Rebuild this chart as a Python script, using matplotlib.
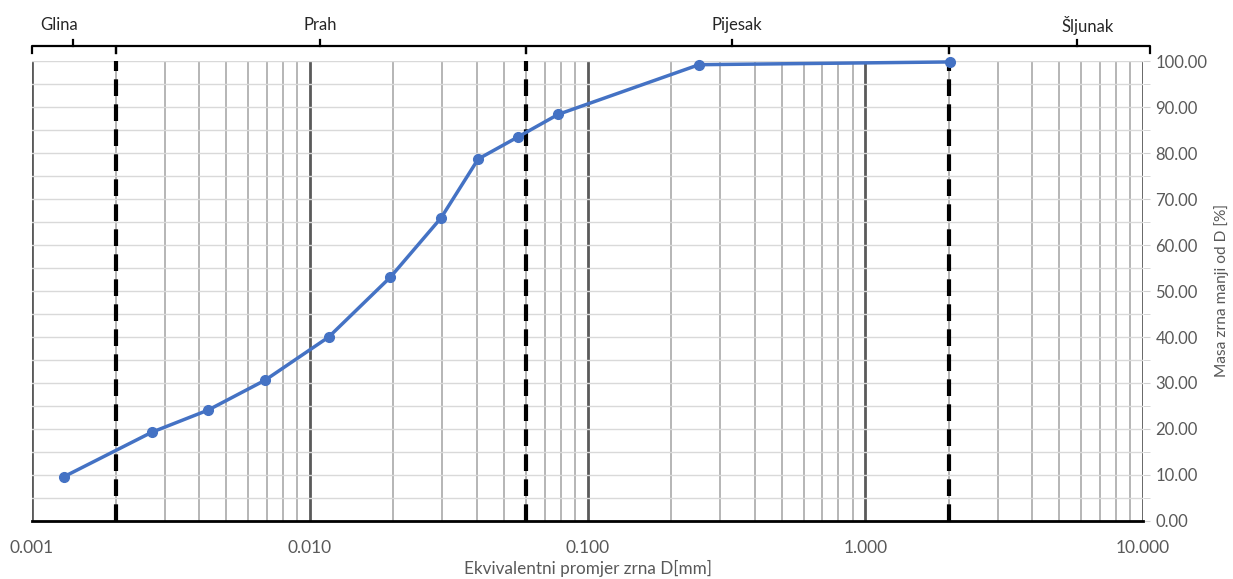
import numpy as np
import matplotlib
matplotlib.use('Agg')
import matplotlib.pyplot as plt
import matplotlib.ticker as mticker
from matplotlib.transforms import blended_transform_factory

plt.rcParams['font.family'] = ['Lato', 'DejaVu Sans']

# --- podaci ---
promjer = [0.0013, 0.0027, 0.0043, 0.0069, 0.0117, 0.0195, 0.0297, 0.0404, 0.0562, 0.0784, 0.252, 2.02]
prolaz = [9.6, 19.3, 24.1, 30.6, 40.0, 53.0, 65.9, 78.7, 83.5, 88.4, 99.2, 99.8]

granice = [0.002, 0.06, 2.0]
frakcije = ['Glina', 'Prah', 'Pijesak', 'Šljunak']
raspon_frakcija = [(0.001, 0.002), (0.002, 0.06), (0.06, 2.0), (2.0, 10.6)]
polozaj_naziva = [0.00125, 0.0109, 0.345, 6.3]
polozaj_kvacice = [0.0014, 0.0109, 0.33, 5.8]

fig = plt.figure(figsize=(12.33, 5.79), dpi=100)
ax = fig.add_axes([0.026, 0.1002, 0.901, 0.7944])

ax.set_xscale('log')
ax.set_xlim(0.001, 10)
ax.set_ylim(0, 100)

# mreža
ax.xaxis.set_major_locator(mticker.LogLocator(base=10, numticks=10))
ax.xaxis.set_minor_locator(mticker.LogLocator(base=10, subs=np.arange(2, 10), numticks=20))
ax.xaxis.set_major_formatter(mticker.FuncFormatter(lambda v, p: f'{v:.3f}'))
ax.xaxis.set_minor_formatter(mticker.NullFormatter())
ax.yaxis.set_major_locator(mticker.MultipleLocator(10))
ax.yaxis.set_minor_locator(mticker.MultipleLocator(5))
ax.yaxis.set_major_formatter(mticker.FuncFormatter(lambda v, p: f'{v:.2f}'))

ax.grid(True, which='major', axis='x', color='#5a5a5a', lw=2.0, zorder=0)
ax.grid(True, which='minor', axis='x', color='#b0b0b0', lw=1.3, zorder=0)
ax.grid(True, which='both', axis='y', color='#d9d9d9', lw=1.0, zorder=0)

ax.yaxis.tick_right()
ax.tick_params(axis='y', which='both', length=5, color='#d0d0d0', labelcolor='#595959',
               labelsize=12, pad=4)
ax.tick_params(axis='x', which='both', length=0, labelcolor='#595959', labelsize=12.5, pad=14)

for s in ['top', 'right', 'left']:
    ax.spines[s].set_visible(False)
ax.spines['bottom'].set_color('black')
ax.spines['bottom'].set_linewidth(2)

fig.text(0.477, 0.019, 'Ekvivalentni promjer zrna D[mm]', fontsize=12.3, color='#595959',
         ha='center', va='center')
fig.text(0.991, 0.499, 'Masa zrna manji od D [%]', fontsize=11.2, color='#595959',
         ha='center', va='center', rotation=90)

# granice frakcija
for g in granice:
    ax.axvline(g, color='black', lw=3, ls=(0, (4, 2)), zorder=3)

# krivulja granulometrijskog sastava
ax.plot(promjer, prolaz, color='#4472c4', lw=2.5, marker='o', ms=7, zorder=4, clip_on=False)

# zagrade iznad grafa
tr = blended_transform_factory(ax.transData, ax.transAxes)
y_z = 1.0326
for (a, b), naziv, xn, xk in zip(raspon_frakcija, frakcije, polozaj_naziva, polozaj_kvacice):
    ax.plot([a, a, b, b], [y_z - 0.016, y_z, y_z, y_z - 0.016], color='black', lw=1.6,
            transform=tr, clip_on=False)
    ax.plot([xk, xk], [y_z, y_z + 0.014], color='black', lw=1.6, transform=tr, clip_on=False)
    ax.text(xn, 1.078, naziv, transform=tr, ha='center', va='center', fontsize=12, color='#262626')

fig.savefig('out.png', dpi=100)
